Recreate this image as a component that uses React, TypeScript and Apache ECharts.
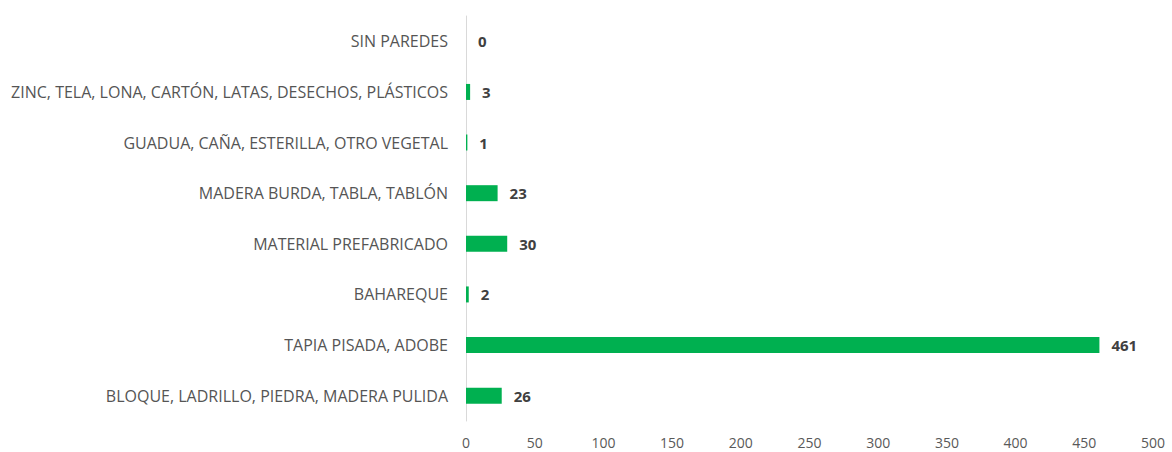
import React, { useEffect, useRef } from "react";
import * as echarts from "echarts";

const categories = [
  "SIN PAREDES",
  "ZINC, TELA, LONA, CARTÓN, LATAS, DESECHOS, PLÁSTICOS",
  "GUADUA, CAÑA, ESTERILLA, OTRO VEGETAL",
  "MADERA BURDA, TABLA, TABLÓN",
  "MATERIAL PREFABRICADO",
  "BAHAREQUE",
  "TAPIA PISADA, ADOBE",
  "BLOQUE, LADRILLO, PIEDRA, MADERA PULIDA",
];
const values = [0, 3, 1, 23, 30, 2, 461, 26];
const xTicks = { min: 0, max: 500, interval: 50 };

export default function App() {
  const ref = useRef<HTMLDivElement>(null);
  useEffect(() => {
    const chart = echarts.init(ref.current!, undefined, { renderer: "svg" });
    const font = "Open Sans";
    chart.setOption({
      animation: false,
      backgroundColor: "#ffffff",
      grid: { left: 466, right: 19, top: 16, bottom: 31, containLabel: false },
      xAxis: {
        type: "value",
        min: xTicks.min,
        max: xTicks.max,
        interval: xTicks.interval,
        axisLine: { show: false },
        axisTick: { show: false },
        splitLine: { show: false },
        axisLabel: { color: "#595959", fontSize: 14, fontFamily: font, margin: 14 },
      },
      yAxis: {
        type: "category",
        inverse: true,
        data: categories,
        axisLine: { show: true, lineStyle: { color: "#d9d9d9", width: 1 } },
        axisTick: { show: false },
        axisLabel: {
          color: "#555555",
          fontSize: 16,
          fontFamily: font,
          margin: 18,
        },
      },
      series: [
        {
          type: "bar",
          data: values,
          barWidth: 16,
          itemStyle: { color: "#00b050" },
          label: {
            show: true,
            position: "right",
            distance: 12,
            color: "#404040",
            fontWeight: "bold",
            fontSize: 15,
            fontFamily: font,
          },
        },
      ],
    });
    return () => chart.dispose();
  }, []);
  return (
    <div
      ref={ref}
      style={{ position: "fixed", left: 0, top: 0, width: 1172, height: 452 }}
    />
  );
}
